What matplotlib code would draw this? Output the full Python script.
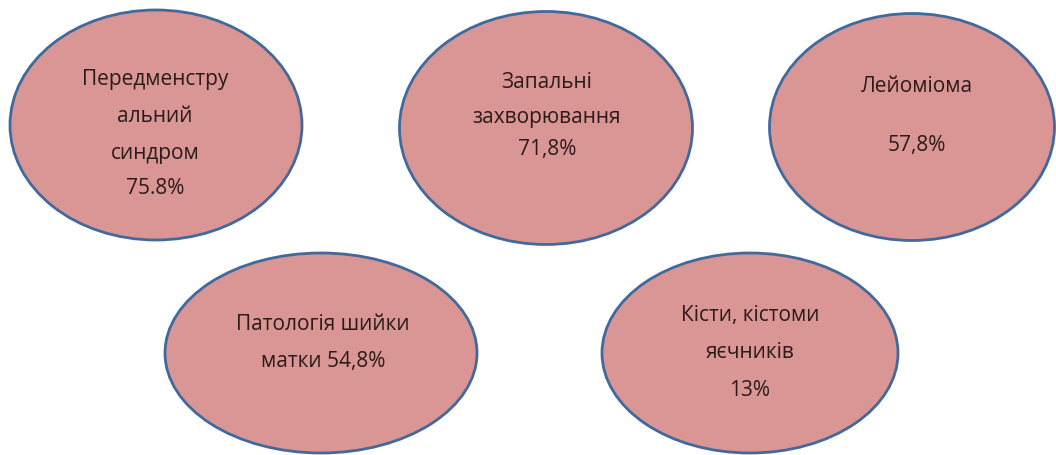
import matplotlib.pyplot as plt
from matplotlib.patches import Ellipse

# data
labels = [
    ["Передменстру", "альний", "синдром"],
    ["Запальні", "захворювання"],
    ["Лейоміома"],
    ["Патологія шийки", "матки"],
    ["Кісти, кістоми", "яєчників"],
]
values = ["75.8%", "71,8%", "57,8%", "54,8%", "13%"]
# percentage on its own line or appended to the last label line
value_inline = [False, False, False, True, False]

# layout (pixels, origin top-left)
centers = [(156, 125), (546, 128), (912, 127), (321, 353), (750, 353)]
sizes = [(292, 230), (293, 233), (285, 227), (312, 200), (296, 200)]
line_y = [
    [80, 117, 153, 188],
    [83, 117, 150],
    [87, 145],
    [325, 362],
    [315, 353, 390],
]
text_x = [155, 547, 917, 323, 750]

fill = "#d99694"
edge = "#41699c"

fig = plt.figure(figsize=(10.56, 4.55), dpi=100)
ax = fig.add_axes([0, 0, 1, 1])
ax.set_xlim(0, 1056)
ax.set_ylim(455, 0)
ax.axis("off")

for i in range(len(labels)):
    cx, cy = centers[i]
    w, h = sizes[i]
    ax.add_patch(Ellipse((cx, cy), w, h, facecolor=fill, edgecolor=edge, lw=2.0))
    lines = list(labels[i])
    if value_inline[i]:
        lines[-1] = lines[-1] + " " + values[i]
    else:
        lines.append(values[i])
    for txt, y in zip(lines, line_y[i]):
        ax.text(text_x[i], y, txt, ha="center", va="center", fontsize=15,
                family=["Open Sans", "DejaVu Sans"], color="#2b1b1b")

fig.savefig("out.png", dpi=100)
